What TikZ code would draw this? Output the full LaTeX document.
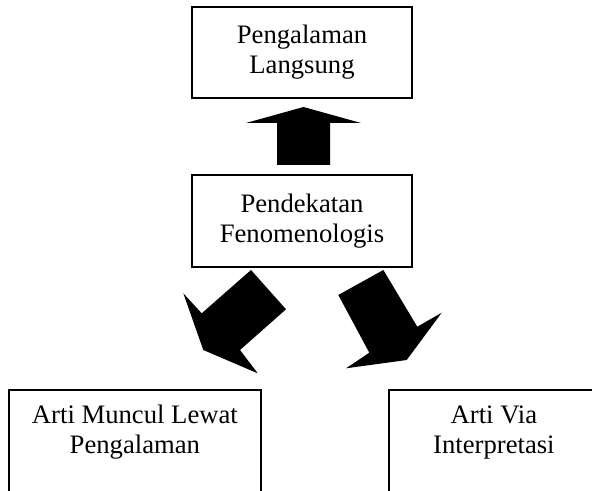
\documentclass[tikz,border=0pt]{standalone}
\usepackage{fontspec}
\setmainfont{Liberation Serif}
\begin{document}
\begin{tikzpicture}[x=0.45pt,y=-0.45pt,
  box/.style={draw=black, line width=0.8pt, fill=white, inner sep=0pt},
  lbl/.style={align=center, font=\fontsize{12}{13.5}\selectfont, inner sep=0pt},
  blockarrow/.style={fill=black, draw=none}]
\useasboundingbox (0,0) rectangle (592,491);
\clip (0,0) rectangle (592,491);
% boxes
\node[box, lbl, minimum width=99pt, minimum height=40.95pt] (top) at (302,52.5) {Pengalaman\\Langsung};
\node[box, lbl, minimum width=99pt, minimum height=41.4pt] (mid) at (302,221) {Pendekatan\\Fenomenologis};
\node[box, anchor=north west, minimum width=113.4pt, minimum height=58.5pt] (left) at (8,389) {};
\node[box, anchor=north west, minimum width=94.5pt, minimum height=58.5pt] (right) at (388,389) {};
\node[lbl, anchor=north] (lefttext) at ([yshift=-7.2pt]left.north) {Arti Muncul Lewat\\Pengalaman};
\node[lbl, anchor=north] (righttext) at ([yshift=-7.2pt]right.north) {Arti Via\\Interpretasi};
% block arrows
\fill[blockarrow] (277,165) -- (277,123) -- (246,123) -- (303.5,107) -- (361,123) -- (330,123) -- (330,165) -- cycle;
\fill[blockarrow] (251,270) -- (286,309.3) -- (240,350) -- (257.7,373.3) -- (203.3,350) -- (183.3,293.3) -- (201.7,313.3) -- cycle;
\fill[blockarrow] (383.3,270) -- (417.3,326.7) -- (441.7,312.7) -- (406.7,360) -- (346,368.3) -- (369.3,352.7) -- (338.3,295) -- cycle;
\end{tikzpicture}
\end{document}
